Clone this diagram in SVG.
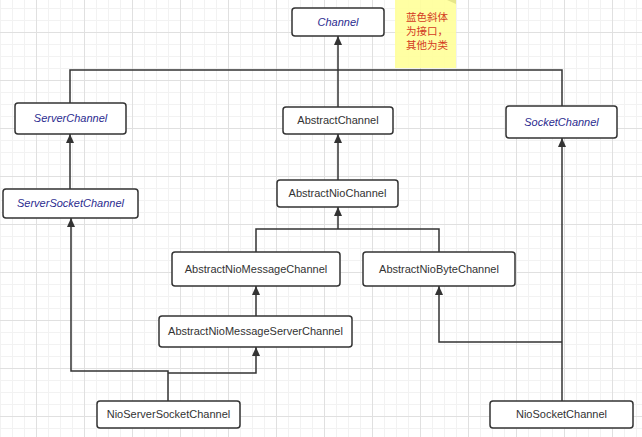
<svg xmlns="http://www.w3.org/2000/svg" width="642" height="437" viewBox="0 0 642 437">
<defs>
<pattern id="minor" x="0" y="8" width="12" height="12" patternUnits="userSpaceOnUse">
<path d="M0,0.5 H12 M0.5,0 V12" fill="none" stroke="#f2f2f2" stroke-width="1"/>
</pattern>
<pattern id="major" x="36" y="32" width="48" height="48" patternUnits="userSpaceOnUse">
<path d="M0,0.5 H48 M0.5,0 V48" fill="none" stroke="#e0e0e0" stroke-width="1"/>
</pattern>
<marker id="arr" markerUnits="userSpaceOnUse" markerWidth="10" markerHeight="10" refX="9" refY="4" orient="auto">
<path d="M0,0 L9,4 L0,8 z" fill="#333"/>
</marker>
</defs>
<style>
.box{fill:#fff;stroke:#333;stroke-width:1.5}
.t{font-family:"Liberation Sans",Arial,sans-serif;font-size:11px;fill:#333;text-anchor:middle}
.i{font-style:italic;fill:#2b2b8f}
.c{fill:none;stroke:#333;stroke-width:1.5}
.note{font-family:"Noto Sans CJK SC",sans-serif;font-size:10.5px;fill:#d33a1f}
</style>
<rect width="642" height="437" fill="#fff"/>
<rect width="642" height="437" fill="url(#minor)"/>
<rect width="642" height="437" fill="url(#major)"/>

<g id="note">
<rect x="395" y="0" width="61" height="68" fill="#ffff99" opacity="0.9"/>
<path d="M447,0 L456,0 L456,4 Z" fill="#e6e68a"/>
<text class="note" x="406" y="21">蓝色斜体</text>
<text class="note" x="406" y="35">为接口，</text>
<text class="note" x="406" y="49">其他为类</text>
</g>

<g id="connectors">
<path class="c" d="M338,107 V36" marker-end="url(#arr)"/>
<path class="c" d="M70,103 V70 H562 V106"/>
<path class="c" d="M70,189 V134" marker-end="url(#arr)"/>
<path class="c" d="M338,180 V134" marker-end="url(#arr)"/>
<path class="c" d="M256,252 V229 H439 V252"/>
<path class="c" d="M338,229 V207" marker-end="url(#arr)"/>
<path class="c" d="M256,316 V286" marker-end="url(#arr)"/>
<path class="c" d="M168,401 V371 H71 V218" marker-end="url(#arr)"/>
<path class="c" d="M168,373 H256 V347" marker-end="url(#arr)"/>
<path class="c" d="M562,401 V138" marker-end="url(#arr)"/>
<path class="c" d="M562,342 H439 V286" marker-end="url(#arr)"/>
</g>

<g id="Channel"><rect class="box" x="292" y="8" width="92" height="28" rx="3"/><text class="t i" x="338" y="26">Channel</text></g>
<g id="ServerChannel"><rect class="box" x="15" y="103" width="111" height="31" rx="3"/><text class="t i" x="70.5" y="122">ServerChannel</text></g>
<g id="AbstractChannel"><rect class="box" x="283" y="107" width="110" height="27" rx="3"/><text class="t" x="338" y="124">AbstractChannel</text></g>
<g id="SocketChannel"><rect class="box" x="506" y="106" width="111" height="32" rx="3"/><text class="t i" x="561.5" y="126">SocketChannel</text></g>
<g id="ServerSocketChannel"><rect class="box" x="3" y="189" width="135" height="29" rx="3"/><text class="t i" x="70.5" y="207">ServerSocketChannel</text></g>
<g id="AbstractNioChannel"><rect class="box" x="277" y="180" width="121" height="27" rx="3"/><text class="t" x="337.5" y="197">AbstractNioChannel</text></g>
<g id="AbstractNioMessageChannel"><rect class="box" x="172" y="252" width="168" height="34" rx="3"/><text class="t" x="256" y="273">AbstractNioMessageChannel</text></g>
<g id="AbstractNioByteChannel"><rect class="box" x="363" y="252" width="152" height="34" rx="3"/><text class="t" x="439" y="273">AbstractNioByteChannel</text></g>
<g id="AbstractNioMessageServerChannel"><rect class="box" x="159" y="316" width="193" height="31" rx="3"/><text class="t" x="255.5" y="335">AbstractNioMessageServerChannel</text></g>
<g id="NioServerSocketChannel"><rect class="box" x="97" y="401" width="143" height="27" rx="3"/><text class="t" x="168.5" y="418">NioServerSocketChannel</text></g>
<g id="NioSocketChannel"><rect class="box" x="490" y="401" width="143" height="27" rx="3"/><text class="t" x="561.5" y="418">NioSocketChannel</text></g>
</svg>
